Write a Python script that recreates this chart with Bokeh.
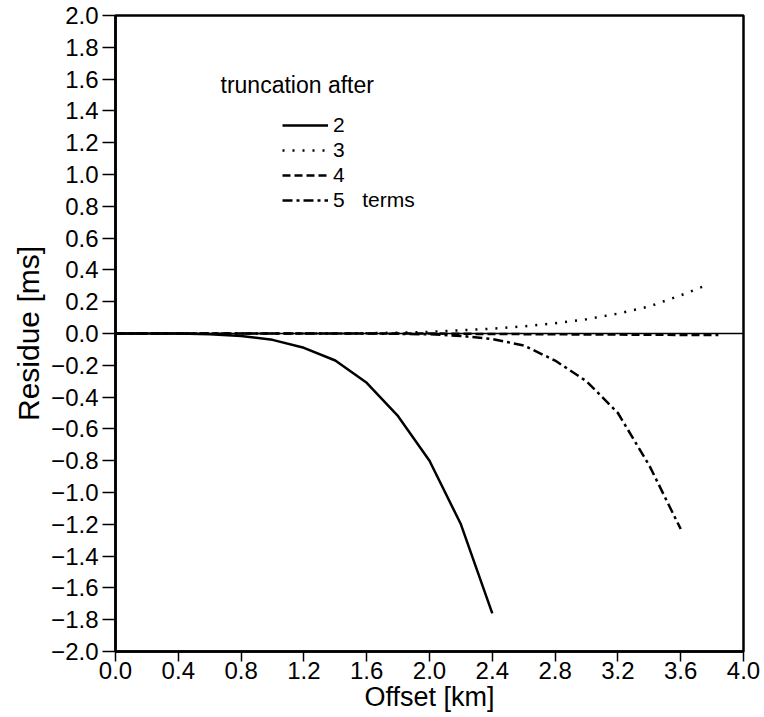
from bokeh.plotting import figure
from bokeh.models import (Range1d, FixedTicker, CustomJSTickFormatter, Span,
                          Legend, LegendItem, Label)
from bokeh.embed import file_html
from bokeh.resources import INLINE

# ---- data ----
x_ticks = [0.0, 0.4, 0.8, 1.2, 1.6, 2.0, 2.4, 2.8, 3.2, 3.6, 4.0]
y_ticks = [-2.0, -1.8, -1.6, -1.4, -1.2, -1.0, -0.8, -0.6, -0.4, -0.2, 0.0,
           0.2, 0.4, 0.6, 0.8, 1.0, 1.2, 1.4, 1.6, 1.8, 2.0]

offset_2 = [0.0, 0.2, 0.4, 0.6, 0.8, 1.0, 1.2, 1.4, 1.6, 1.8, 2.0, 2.2, 2.4]
res_2 = [0.0, 0.0, 0.0, -0.005, -0.015, -0.04, -0.09, -0.17, -0.31, -0.52,
         -0.80, -1.20, -1.76]

offset_3 = [0.0, 0.2, 0.4, 0.6, 0.8, 1.0, 1.2, 1.4, 1.6, 1.8, 2.0, 2.2, 2.4,
            2.6, 2.8, 3.0, 3.2, 3.4, 3.6, 3.78]
res_3 = [0.0, 0.0, 0.0, 0.0, 0.0, 0.0, 0.0, 0.0, 0.002, 0.005, 0.01, 0.02,
         0.03, 0.045, 0.065, 0.09, 0.125, 0.17, 0.24, 0.31]

offset_4 = [0.0, 0.2, 0.4, 0.6, 0.8, 1.0, 1.2, 1.4, 1.6, 1.8, 2.0, 2.2, 2.4,
            2.6, 2.8, 3.0, 3.2, 3.4, 3.6, 3.84]
res_4 = [0.0, 0.0, 0.0, 0.0, 0.0, 0.0, 0.0, 0.0, 0.0, 0.0, 0.0, -0.002,
         -0.003, -0.004, -0.005, -0.006, -0.007, -0.008, -0.009, -0.01]

offset_5 = [0.0, 0.2, 0.4, 0.6, 0.8, 1.0, 1.2, 1.4, 1.6, 1.8, 2.0, 2.2, 2.4,
            2.6, 2.8, 3.0, 3.2, 3.4, 3.6]
res_5 = [0.0, 0.0, 0.0, 0.0, 0.0, 0.0, 0.0, 0.0, 0.0, -0.002, -0.005, -0.015,
         -0.035, -0.075, -0.17, -0.30, -0.50, -0.83, -1.23]

legend_title = "truncation after"
legend_labels = ["2", "3", "4", "5\u00a0\u00a0\u00a0terms"]
x_label = "Offset [km]"
y_label = "Residue [ms]"

FONT = "Liberation Sans"

p = figure(frame_width=628, frame_height=636,
           x_range=Range1d(0, 4), y_range=Range1d(-2, 2),
           output_backend="svg", toolbar_location=None,
           min_border_left=115, min_border_right=21,
           min_border_top=15, min_border_bottom=66,
           background_fill_color="white", border_fill_color="white")

p.xgrid.visible = False
p.ygrid.visible = False
p.outline_line_color = "black"
p.outline_line_width = 2.5

fmt = CustomJSTickFormatter(code="return tick.toFixed(1).replace('-', '\\u2212');")

for ax in (p.xaxis[0], p.yaxis[0]):
    ax.formatter = fmt
    ax.axis_line_width = 2.5
    ax.axis_line_color = "black"
    ax.major_tick_in = 0
    ax.major_tick_line_width = 1.5
    ax.major_tick_line_color = "black"
    ax.minor_tick_line_color = None
    ax.major_label_text_font = FONT
    ax.major_label_text_font_size = "24px"
    ax.major_label_text_color = "black"
    ax.axis_label_text_font = FONT
    ax.axis_label_text_font_style = "normal"
    ax.axis_label_text_color = "black"

p.xaxis.ticker = FixedTicker(ticks=x_ticks)
p.yaxis.ticker = FixedTicker(ticks=y_ticks)
p.xaxis.major_tick_out = 10
p.yaxis.major_tick_out = 13
p.xaxis.major_label_standoff = 0
p.yaxis.major_label_standoff = 4
p.xaxis.axis_label = x_label
p.yaxis.axis_label = y_label
p.xaxis.axis_label_text_font_size = "27px"
p.yaxis.axis_label_text_font_size = "30px"
p.xaxis.axis_label_standoff = 0
p.yaxis.axis_label_standoff = 3

p.add_layout(Span(location=0, dimension="width", line_color="black",
                  line_width=1.5))

r2 = p.line(offset_2, res_2, line_color="black", line_width=2.5)
r3 = p.line(offset_3, res_3, line_color="black", line_width=2.5,
            line_dash="2 8")
r4 = p.line(offset_4, res_4, line_color="black", line_width=2.5,
            line_dash="8 4")
r5 = p.line(offset_5, res_5, line_color="black", line_width=2.5,
            line_dash="10 4 3 4")

legend = Legend(items=[LegendItem(label=lab, renderers=[r])
                       for lab, r in zip(legend_labels, [r2, r3, r4, r5])],
                location=(167, 439), orientation="vertical",
                glyph_width=46, glyph_height=24, label_height=24,
                label_standoff=5, spacing=1, padding=0, margin=0,
                border_line_alpha=0, background_fill_alpha=0,
                label_text_font=FONT, label_text_font_size="21px",
                label_text_color="black", label_text_baseline="alphabetic")
p.add_layout(legend, "center")

p.add_layout(Label(x=105, y=567, x_units="screen", y_units="screen",
                   text=legend_title, text_font=FONT, text_font_size="23px",
                   text_color="black", text_baseline="alphabetic"))

open("out.html", "w").write(file_html(p, INLINE))
